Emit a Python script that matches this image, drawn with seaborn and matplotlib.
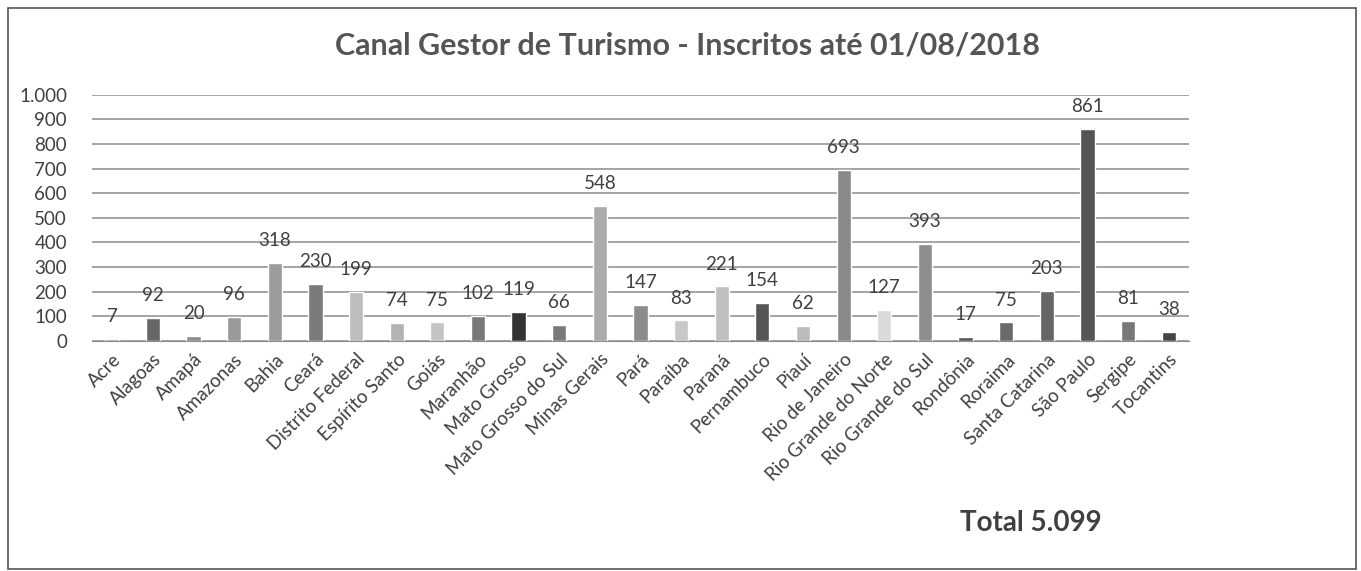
import seaborn as sns
import matplotlib.pyplot as plt
from matplotlib.patches import Rectangle

states = ["Acre", "Alagoas", "Amapá", "Amazonas", "Bahia", "Ceará", "Distrito Federal",
          "Espírito Santo", "Goiás", "Maranhão", "Mato Grosso", "Mato Grosso do Sul",
          "Minas Gerais", "Pará", "Paraíba", "Paraná", "Pernambuco", "Piauí",
          "Rio de Janeiro", "Rio Grande do Norte", "Rio Grande do Sul", "Rondônia",
          "Roraima", "Santa Catarina", "São Paulo", "Sergipe", "Tocantins"]
inscritos = [7, 92, 20, 96, 318, 230, 199, 74, 75, 102, 119, 66, 548, 147, 83, 221,
             154, 62, 693, 127, 393, 17, 75, 203, 861, 81, 38]
bar_colors = ["#8a8a8a", "#666666", "#8c8c8c", "#9a9a9a", "#9c9c9c", "#7a7a7a", "#bdbdbd",
              "#b3b3b3", "#c4c4c4", "#787878", "#333333", "#7a7a7a", "#ababab", "#8c8c8c",
              "#c8c8c8", "#c0c0c0", "#565656", "#bbbbbb", "#8a8a8a", "#dadada", "#8e8e8e",
              "#565656", "#6a6a6a", "#666666", "#555555", "#787878", "#454545"]

sns.set_style("white")
plt.rcParams['font.family'] = ['Lato', 'DejaVu Sans']

fig = plt.figure(figsize=(13.61, 5.71), dpi=100)
ax = fig.add_axes([0.0676, 0.403, 0.806, 0.431])

sns.barplot(x=states, y=inscritos, hue=states, palette=bar_colors, width=0.35,
            legend=False, ax=ax, saturation=1)

ax.set_ylim(0, 1000)
ax.set_yticks(range(0, 1001, 100))
ax.set_yticklabels([f"{v:,}".replace(",", ".") for v in range(0, 1001, 100)],
                   fontsize=13.5, color="#404040")
ax.set_xticks(range(len(states)))
ax.set_xticklabels(states, rotation=45, ha="right", rotation_mode="anchor",
                   fontsize=13.5, color="#404040")
ax.tick_params(axis="x", pad=7, length=0)
ax.tick_params(axis="y", pad=18, length=0)
ax.set_xlim(-0.5, len(states) - 0.5)
ax.yaxis.grid(True, color="#8c8c8c", linewidth=1.1)
ax.set_axisbelow(True)
for side in ["left", "right", "top"]:
    ax.spines[side].set_visible(False)
ax.spines["bottom"].set_color("#8c8c8c")

for i, v in enumerate(inscritos):
    ax.annotate(str(v), (i, v), xytext=(0, 10), textcoords="offset points",
                ha="center", va="bottom", fontsize=13.5, color="#404040")

fig.text(0.5055, 0.921, "Canal Gestor de Turismo - Inscritos até 01/08/2018",
         ha="center", va="center", fontsize=22, fontweight="bold", color="#555555")
fig.text(0.705, 0.084, "Total 5.099", ha="left", va="center",
         fontsize=20, fontweight="bold", color="#404040")

fig.patches.append(Rectangle((0.006, 0.004), 0.99, 0.982, transform=fig.transFigure,
                             fill=False, edgecolor="#555555", linewidth=1.2))

fig.savefig("out.png", dpi=100)
plt.close(fig)
